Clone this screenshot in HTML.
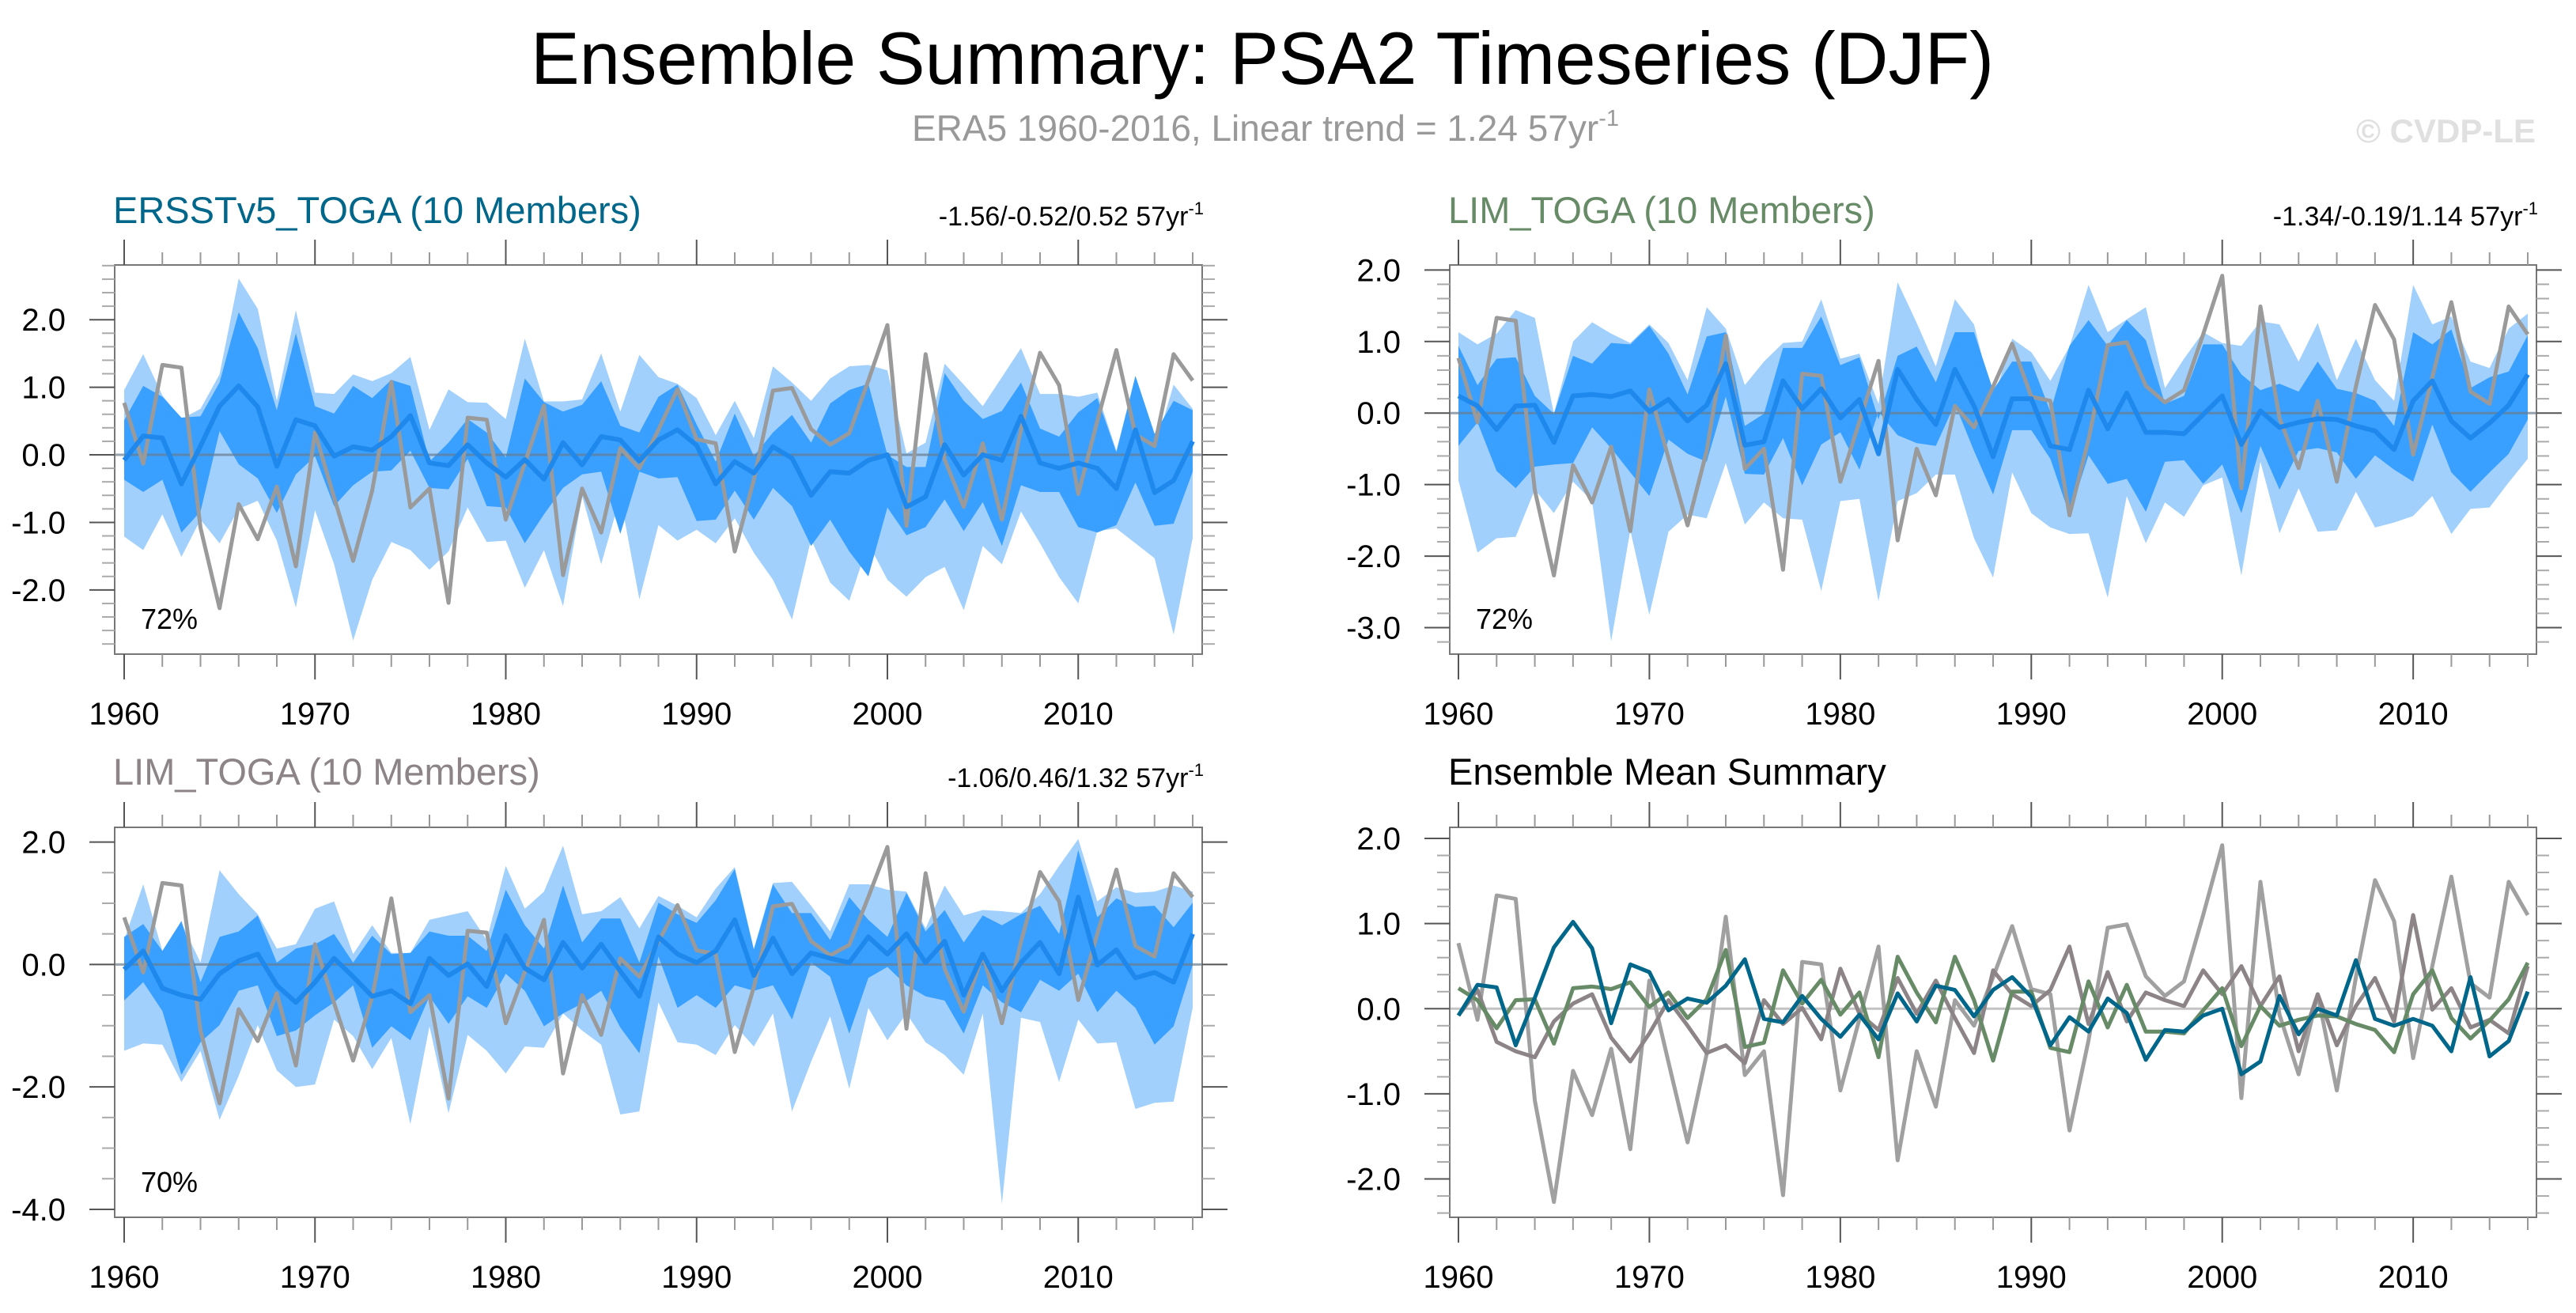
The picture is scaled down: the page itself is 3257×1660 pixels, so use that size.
<!DOCTYPE html>
<html><head><meta charset="utf-8"><style>
html,body{margin:0;padding:0;background:#fff;}
svg{display:block;font-family:"Liberation Sans",sans-serif;}
</style></head><body>
<svg id="chart" width="3257" height="1660" viewBox="0 0 3257 1660" xmlns="http://www.w3.org/2000/svg">
<text x="1596" y="106" font-size="94" text-anchor="middle" textLength="1850" lengthAdjust="spacingAndGlyphs" fill="#000">Ensemble Summary: PSA2 Timeseries (DJF)</text>
<text x="1600" y="178" font-size="46" text-anchor="middle" fill="#999">ERA5 1960-2016, Linear trend = 1.24 57yr<tspan font-size="29" dy="-19">-1</tspan></text>
<text x="3206" y="180" font-size="42" font-weight="bold" text-anchor="end" fill="#e0e0e0">© CVDP-LE</text>
</svg>
<script>
const years = [];
for (let y = 1960; y <= 2016; y++) years.push(y);
const era5 = [0.77,-0.13,1.33,1.29,-1.08,-2.27,-0.73,-1.25,-0.47,-1.65,0.33,-0.63,-1.57,-0.53,1.08,-0.78,-0.5,-2.19,0.55,0.52,-0.96,-0.12,0.73,-1.78,-0.5,-1.15,0.1,-0.2,0.37,0.97,0.23,0.17,-1.43,-0.37,0.95,0.99,0.38,0.15,0.32,1.1,1.92,-1.05,1.49,-0.07,-0.77,0.17,-0.96,0.37,1.51,1.03,-0.58,0.5,1.55,0.3,0.13,1.49,1.1];
const ersstMean = [-0.08,0.28,0.25,-0.43,0.13,0.72,1.02,0.71,-0.17,0.52,0.43,-0.02,0.12,0.07,0.27,0.58,-0.12,-0.16,0.15,-0.12,-0.33,-0.07,-0.36,0.18,-0.15,0.27,0.22,-0.09,0.22,0.37,0.14,-0.43,-0.1,-0.27,0.12,-0.05,-0.6,-0.25,-0.27,-0.08,0,-0.77,-0.62,0.15,-0.3,0,-0.08,0.57,-0.12,-0.2,-0.12,-0.2,-0.5,0.37,-0.56,-0.38,0.2];
const ersstOuterHi = [0.96,1.49,0.88,0.53,0.68,1.19,2.61,2.16,0.8,2.14,0.92,0.9,1.19,1.09,1.21,1.45,0.37,0.97,0.78,0.77,0.53,1.72,0.79,0.79,0.82,1.5,0.64,1.48,1.15,1.05,0.84,0.29,0.8,0.25,1.31,1.07,0.8,1.13,1.31,1.33,1.25,0.02,0.18,1.35,1.04,0.72,1.15,1.58,0.9,0.9,0.86,0.92,0.06,1.15,0.08,1.04,0.68];
const ersstOuterLo = [-1.21,-1.41,-0.88,-1.51,-0.96,-1.31,-0.8,-0.68,-1.27,-2.26,-0.82,-1.62,-2.75,-1.85,-1.29,-1.41,-1.7,-1.43,-0.78,-1.29,-1.27,-1.97,-1.41,-2.24,-0.61,-1.62,-0.62,-2.14,-1.04,-1.27,-1.11,-1.31,-0.94,-1.45,-1.85,-2.44,-1.25,-1.89,-2.16,-1.31,-1.85,-2.1,-1.81,-1.66,-2.3,-1.35,-1.62,-0.84,-1.31,-1.81,-2.2,-1.13,-1.09,-1.31,-1.53,-2.66,-1.23];
const ersstInnerHi = [0.51,1.02,0.86,0.55,0.57,1.07,2.11,1.58,0.66,1.8,0.72,0.61,1.02,0.84,1.11,1.02,-0.1,0.18,0.53,0.33,-0.04,1.13,0.78,0.64,0.74,1.09,0.43,0.33,0.86,1.04,0.45,-0.1,0.61,-0.02,0.33,0.59,0.18,0.76,0.96,1.05,0,-0.18,-0.18,1.21,0.8,0.53,0.65,1.07,0.39,0.27,0.63,0.84,0.04,1.17,0.31,0.8,0.66];
const ersstInnerLo = [-0.37,-0.55,-0.37,-1.15,-0.84,0.35,-0.14,-0.35,-0.86,-0.29,-0.02,-0.76,-0.45,-0.25,-0.23,0.06,-0.49,-0.51,-0.06,-0.76,-0.78,-1.31,-0.88,-0.49,-0.29,-0.25,-1.17,-0.25,-0.35,-0.33,-0.98,-0.96,-0.53,-0.96,-0.49,-0.76,-1.35,-0.96,-1.43,-1.8,-0.78,-1.19,-1.07,-0.66,-1.13,-0.7,-1.35,-0.45,-0.55,-0.55,-1.07,-1.15,-1.04,-0.41,-1.05,-1.02,-0.25];
const limMean = [0.24,0.1,-0.23,0.1,0.11,-0.41,0.24,0.26,0.23,0.31,0.02,0.19,-0.11,0.11,0.69,-0.45,-0.4,0.45,0.06,0.34,-0.07,0.19,-0.57,0.61,0.19,-0.16,0.61,0.1,-0.61,0.2,0.2,-0.46,-0.51,0.32,-0.22,0.28,-0.27,-0.27,-0.29,-0.02,0.24,-0.44,0.03,-0.2,-0.13,-0.08,-0.09,-0.18,-0.25,-0.51,0.17,0.45,-0.11,-0.35,-0.14,0.11,0.54];
const limOuterHi = [1.13,0.96,1.11,1.44,1.33,-0.01,1.0,1.27,1.11,0.98,1.24,0.98,0.46,1.48,1.18,0.39,0.72,0.98,1.0,1.59,0.76,0.83,0.13,1.83,1.26,0.65,1.59,1.24,0.17,1.04,0.85,0.45,0.93,1.79,1.13,1.31,1.48,0.35,0.76,1.13,0.98,0.94,1.28,1.24,0.72,1.26,0.46,1.04,0.46,0.17,1.79,1.24,1.35,0.72,0.63,1.18,1.39];
const limOuterLo = [-0.94,-1.95,-1.75,-1.73,-1.07,-1.4,-0.96,-1.23,-3.19,-1.64,-2.82,-1.66,-1.42,-1.47,-0.7,-1.56,-1.25,-1.47,-1.49,-2.49,-1.23,-1.2,-2.63,-1.23,-1.12,-0.86,-0.86,-1.75,-2.3,-0.83,-1.4,-1.6,-1.69,-1.68,-2.58,-1.16,-1.82,-1.25,-1.45,-1.01,-0.9,-2.27,-0.68,-1.68,-1.05,-1.66,-1.64,-1.1,-1.6,-1.53,-1.44,-1.16,-1.69,-1.34,-1.32,-0.97,-0.64];
const limInnerHi = [0.94,0.39,0.76,0.78,0.24,-0.01,0.8,0.69,0.98,0.96,1.22,0.83,0.26,1.07,1.13,-0.18,-0.01,0.91,0.91,1.35,0.67,0.78,-0.09,0.8,0.93,0.43,1.13,1.13,0.32,0.72,0.72,0.02,0.94,1.3,0.94,1.3,1.02,0.13,0.24,0.96,0.96,0.54,0.32,0.41,0.3,0.72,0.34,0.28,0.17,-0.18,1.13,0.96,1.17,0.35,0.5,0.58,1.09];
const limInnerLo = [-0.46,-0.13,-0.81,-1.05,-0.75,-0.72,-0.7,-0.2,-0.49,-0.83,-1.16,-0.37,-0.57,-0.68,0.23,-0.85,-0.86,-0.35,-1.01,-0.44,-0.27,-0.79,0.02,-0.31,-0.42,-0.46,0.13,-0.53,-1.14,-0.24,-0.24,-0.64,-1.42,-0.59,-0.99,-0.92,-1.38,-0.68,-0.66,-0.99,-0.72,-1.4,-0.46,-1.07,-0.53,-0.49,-0.55,-0.92,-0.59,-0.79,-0.96,-0.16,-0.83,-1.1,-0.83,-0.57,-0.09];
const lim2Mean = [-0.08,0.22,-0.39,-0.5,-0.57,-0.15,0.06,0.17,-0.34,-0.62,-0.29,0.1,-0.2,-0.52,-0.43,-0.64,0.1,-0.18,0.01,-0.36,0.47,-0.06,-0.25,0.36,-0.06,0.33,-0.11,-0.52,0.45,0.17,0.03,0.22,0.73,-0.18,0.43,-0.15,0.19,0.1,0.03,0.45,0.17,0.5,0.03,0.38,-0.5,0.17,-0.43,0.03,0.36,-0.15,1.1,-0.01,0.24,-0.22,-0.13,-0.29,0.5];
const lim2OuterHi = [0.4,1.31,0.22,0.68,0.03,1.54,1.15,0.82,0.26,0.33,0.91,1.03,0.17,0.64,0.19,0.19,0.73,0.8,0.87,0.4,1.61,0.91,1.19,1.94,0.82,0.87,1.1,0.59,1.12,0.96,0.77,1.24,1.59,0.26,1.33,1.35,0.96,0.54,1.31,1.31,1.22,1.19,0.59,1.29,0.8,0.89,0.87,0.84,1.15,1.61,2.05,1.03,1.26,1.17,1.19,1.29,1.19];
const lim2OuterLo = [-1.41,-1.29,-1.31,-1.92,-1.41,-2.54,-1.82,-0.99,-1.73,-2.0,-1.96,-0.9,-1.17,-1.71,-1.2,-2.61,-1.01,-2.43,-1.15,-1.41,-1.78,-1.34,-1.36,-0.8,-1.08,-1.31,-2.45,-2.4,-0.62,-1.27,-1.31,-1.48,-0.99,-1.34,-0.8,-2.4,-1.59,-0.85,-2.03,-0.71,-1.24,-0.8,-1.27,-1.48,-1.8,-0.8,-3.91,-0.87,-0.94,-1.92,-0.9,-1.29,-1.27,-2.36,-2.26,-2.24,-0.71];
const lim2InnerHi = [0.45,0.66,0.22,0.71,-0.29,0.45,0.54,0.8,0.03,0.26,0.33,0.5,0.03,0.47,0.17,0.19,0.54,0.47,0.47,0.22,1.22,0.64,0.26,1.29,0.36,0.75,0.75,0.03,1.01,0.82,0.68,1.05,1.56,0.24,1.31,0.84,0.84,0.4,1.1,0.73,0.45,1.17,0.54,0.89,0.36,0.8,0.64,0.82,0.96,0.5,1.87,0.77,1.08,0.94,0.96,0.61,1.01];
const lim2InnerLo = [-0.59,-0.29,-0.76,-1.8,-1.27,-0.99,-0.43,-0.34,-1.17,-1.08,-0.83,-0.62,-0.34,-1.36,-1.01,-1.24,-0.52,-0.97,-0.52,-0.71,-0.15,-0.43,-1.01,-0.8,-0.64,-0.43,-1.03,-1.45,0.13,-0.71,-0.5,-0.71,-0.34,-0.43,-0.34,-0.9,0.03,-0.2,-1.13,-0.22,-0.04,-0.34,-0.52,-0.59,-1.13,-0.34,-0.62,-0.78,-0.25,-0.43,-0.15,-0.78,-0.43,-0.71,-1.31,-1.01,-0.01];
const ytTL = [2,1,0,-1,-2];
const ytTR = [2,1,0,-1,-2,-3];
const ytBL = [2,0,-2,-4];
const ytBR = [2,1,0,-1,-2];
const xTickYears = [1960,1970,1980,1990,2000,2010];

const NS = 'http://www.w3.org/2000/svg';
const svg = document.getElementById('chart');
function mk(tag, attrs, parent) {
  const e = document.createElementNS(NS, tag);
  for (const k in attrs) e.setAttribute(k, attrs[k]);
  (parent || svg).appendChild(e);
  return e;
}
function panel(p) {
  const g = mk('g', {});
  
  
  const xs = yr => p.x0 + (yr - 1960) * (p.x1 - p.x0) / 56;
  const ys = v => p.top + (p.ymax - v) * (p.bottom - p.top) / (p.ymax - p.ymin);
  const clipId = 'clip-' + p.name;
  const cp = mk('clipPath', {id: clipId}, g);
  mk('rect', {x: p.left, y: p.top, width: p.right - p.left, height: p.bottom - p.top}, cp);
  const pg = mk('g', {'clip-path': 'url(#' + clipId + ')'}, g);
  function band(hi, lo, color, nm) {
    let d = '';
    years.forEach((yr, i) => { d += (i ? 'L' : 'M') + xs(yr).toFixed(1) + ',' + ys(hi[i]).toFixed(1); });
    for (let i = years.length - 1; i >= 0; i--) d += 'L' + xs(years[i]).toFixed(1) + ',' + ys(lo[i]).toFixed(1);
    const e = mk('path', {d: d + 'Z', fill: color}, pg);
    
    
  }
  function line(vals, color, w, nm) {
    const pts = years.map((yr, i) => xs(yr).toFixed(1) + ',' + ys(vals[i]).toFixed(1)).join(' ');
    const e = mk('polyline', {points: pts, fill: 'none', stroke: color, 'stroke-width': w, 'stroke-linejoin': 'round'}, pg);
    
    
  }
  if (p.bands) {
    band(p.bands[0], p.bands[1], '#a2d0fd', 'outer-spread-band');
    band(p.bands[2], p.bands[3], '#3aa0ff', 'inner-spread-band');
  }
  const zl = mk('line', {x1: p.left, x2: p.right, y1: ys(0), y2: ys(0), stroke: p.bands ? '#6a7a8a' : '#aaa', 'stroke-width': 3, 'stroke-opacity': 0.7}, pg);
  
  
  p.lines.forEach(l => line(l[0], l[1], l[2], l[3]));
  const fr = mk('rect', {x: p.left, y: p.top, width: p.right - p.left, height: p.bottom - p.top, fill: 'none', stroke: '#777', 'stroke-width': 2}, g);
  
  
  for (let yr = 1960; yr <= 2016; yr += 2) {
    const major = (yr % 10 === 0);
    const L = major ? 32 : 16;
    const x = xs(yr);
    mk('line', {x1: x, x2: x, y1: p.bottom, y2: p.bottom + L, stroke: major ? '#555' : '#999', 'stroke-width': 2}, g);
    mk('line', {x1: x, x2: x, y1: p.top, y2: p.top - L, stroke: major ? '#555' : '#999', 'stroke-width': 2}, g);
  }
  xTickYears.forEach(yr => {
    const t = mk('text', {x: xs(yr), y: p.bottom + 89, 'font-size': 40, 'text-anchor': 'middle', fill: '#000'}, g);
    t.textContent = yr;
    
    
  });
  const n = Math.round((p.ymax - p.ymin) / p.minor) + 2;
  const start = Math.ceil(p.ymin / p.minor - 1e-6) * p.minor;
  for (let k = 0; k < n; k++) {
    const v = start + k * p.minor;
    if (v > p.ymax + 1e-6) break;
    const major = Math.abs(v / p.majorStep - Math.round(v / p.majorStep)) < 1e-6;
    const L = major ? 32 : 16;
    const y = ys(v);
    mk('line', {x1: p.left, x2: p.left - L, y1: y, y2: y, stroke: major ? '#555' : '#aaa', 'stroke-width': 2}, g);
    mk('line', {x1: p.right, x2: p.right + L, y1: y, y2: y, stroke: major ? '#555' : '#aaa', 'stroke-width': 2}, g);
  }
  p.yticks.forEach(v => {
    const t = mk('text', {x: p.left - 62, y: ys(v) + 14, 'font-size': 40, 'text-anchor': 'end', fill: '#000'}, g);
    t.textContent = v.toFixed(1);
    
    
  });
  const tt = mk('text', {x: p.left - 2, y: p.titleY, 'font-size': 47, fill: p.titleColor}, g);
  tt.textContent = p.title;
  
  
  if (p.trend) {
    const tr = mk('text', {x: p.right + 2, y: p.titleY + 3, 'font-size': 34, 'text-anchor': 'end', fill: '#000'}, g);
    tr.textContent = p.trend + ' 57yr';
    const sp = mk('tspan', {'font-size': 22, dy: -14}, tr);
    sp.textContent = '-1';
    
    
  }
  if (p.pct) {
    const pc = mk('text', {x: p.left + 33, y: p.bottom - 32, 'font-size': 36, fill: '#000'}, g);
    pc.textContent = p.pct;
    
    
  }
}
const LX = {left: 145, right: 1520, x0: 157, x1: 1508};
const RX = {left: 1833, right: 3207, x0: 1844, x1: 3196};
panel(Object.assign({name: 'panel-ersstv5-toga', top: 335, bottom: 827, ymax: 2.81, ymin: -2.95, minor: 0.2, majorStep: 1, yticks: ytTL,
  title: 'ERSSTv5_TOGA (10 Members)', titleColor: '#00678a', titleY: 282, trend: '-1.56/-0.52/0.52', pct: '72%',
  bands: [ersstOuterHi, ersstOuterLo, ersstInnerHi, ersstInnerLo],
  lines: [[era5, '#9a9a9a', 5, 'era5-line'], [ersstMean, '#1e88ec', 6, 'ensemble-mean-line']]}, LX));
panel(Object.assign({name: 'panel-lim-toga', top: 335, bottom: 827, ymax: 2.07, ymin: -3.37, minor: 0.2, majorStep: 1, yticks: ytTR,
  title: 'LIM_TOGA (10 Members)', titleColor: '#678b67', titleY: 282, trend: '-1.34/-0.19/1.14', pct: '72%',
  bands: [limOuterHi, limOuterLo, limInnerHi, limInnerLo],
  lines: [[era5, '#9a9a9a', 5, 'era5-line'], [limMean, '#1e88ec', 6, 'ensemble-mean-line']]}, RX));
panel(Object.assign({name: 'panel-lim-toga-2', top: 1046, bottom: 1539, ymax: 2.24, ymin: -4.13, minor: 0.5, majorStep: 2, yticks: ytBL,
  title: 'LIM_TOGA (10 Members)', titleColor: '#8c8486', titleY: 992, trend: '-1.06/0.46/1.32', pct: '70%',
  bands: [lim2OuterHi, lim2OuterLo, lim2InnerHi, lim2InnerLo],
  lines: [[era5, '#9a9a9a', 5, 'era5-line'], [lim2Mean, '#1e88ec', 6, 'ensemble-mean-line']]}, LX));
panel(Object.assign({name: 'panel-ensemble-mean-summary', top: 1046, bottom: 1539, ymax: 2.13, ymin: -2.45, minor: 0.2, majorStep: 1, yticks: ytBR,
  title: 'Ensemble Mean Summary', titleColor: '#000', titleY: 992,
  lines: [[era5, '#a0a0a0', 5, 'era5-line'], [lim2Mean, '#8c8486', 5, 'lim-toga-2-mean-line'], [limMean, '#678b67', 5, 'lim-toga-mean-line'], [ersstMean, '#00678a', 5, 'ersstv5-toga-mean-line']]}, RX));
</script>
</body></html>
